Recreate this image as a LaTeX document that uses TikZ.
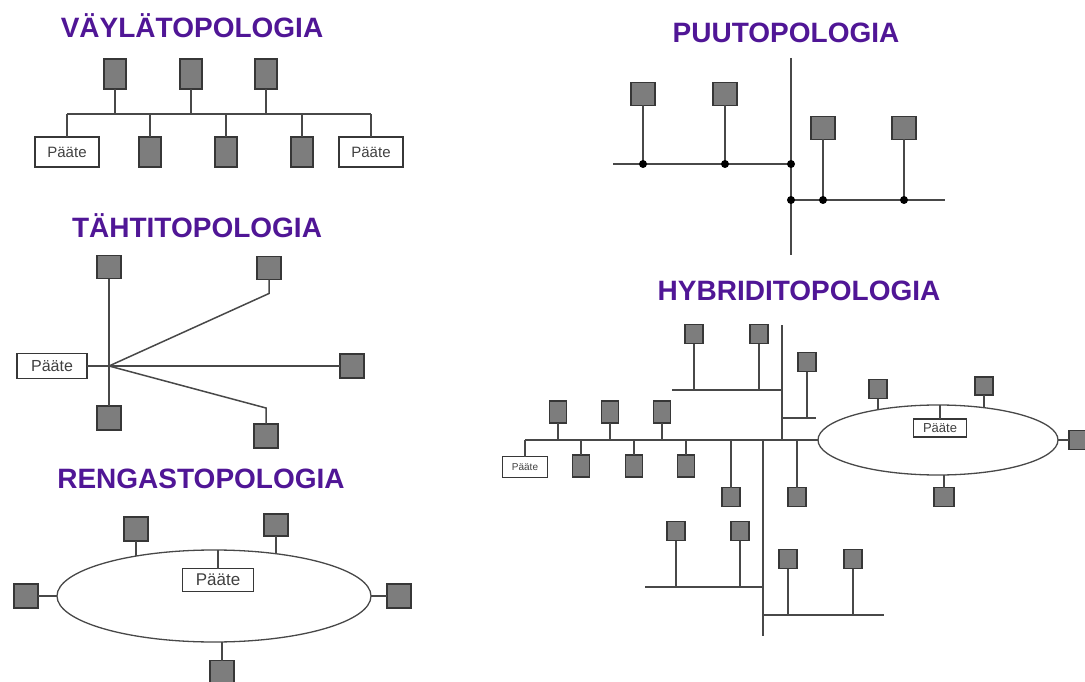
\documentclass[tikz,border=0pt]{standalone}
\usepackage{fontspec}
\setmainfont{Liberation Sans}
\usepackage{xcolor}
\usepackage{tikz}
\usetikzlibrary{shapes.geometric}
\usetikzlibrary{positioning}
\definecolor{titlepurple}{RGB}{80,22,150}
\definecolor{wiregray}{RGB}{72,72,72}
\definecolor{boxfill}{RGB}{125,125,125}
\definecolor{boxline}{RGB}{55,55,55}
\tikzset{title/.style={anchor=base, text=titlepurple, font=\bfseries\fontsize{28}{30}\selectfont}}
\tikzset{wire/.style={draw=wiregray, line width=1.5pt}}
\tikzset{pc/.style={draw=boxline, fill=boxfill, line width=1.2pt, inner sep=0pt, outer sep=0pt, minimum width=24pt, minimum height=24pt}}
\tikzset{tall/.style={pc, minimum width=22pt, minimum height=30pt}}
\tikzset{slim/.style={pc, minimum width=17pt, minimum height=22pt}}
\tikzset{small/.style={pc, minimum width=18pt, minimum height=19pt}}
\tikzset{term/.style={draw=boxline, fill=white, line width=1.1pt, inner sep=0pt, outer sep=0pt, text=black!75, font=\fontsize{#1}{#1}\selectfont}}
\tikzset{term/.default=15}
\tikzset{dot/.style={circle, fill=black, inner sep=0pt, minimum size=8pt}}
\tikzset{ring/.style={ellipse, draw=wiregray, line width=1.3pt, inner sep=0pt, outer sep=0pt}}

\begin{document}
\begin{tikzpicture}[x=1pt, y=-1pt]
\useasboundingbox (0,0) rectangle (1085,682);
{
% bus
\node[title] (tbus) at (192,38) {VÄYLÄTOPOLOGIA};
\coordinate (bus) at (0,114);
\node[tall] (b1) at (115,74) {};
\node[tall] (b2) at (191,74) {};
\node[tall] (b3) at (266,74) {};
\node[term, minimum width=64pt, minimum height=30pt] (bp1) at (67,152) {Pääte};
\node[tall] (b4) at (150,152) {};
\node[tall] (b5) at (226,152) {};
\node[tall] (b6) at (302,152) {};
\node[term, minimum width=64pt, minimum height=30pt] (bp2) at (371,152) {Pääte};
\draw[wire] (bp1.north |- bus) -- (bp2.north |- bus);
\foreach \n in {b1,b2,b3} \draw[wire] (\n.south) -- (\n.south |- bus);
\foreach \n in {bp1,b4,b5,b6,bp2} \draw[wire] (\n.north) -- (\n.north |- bus);
}
{
% tree
\node[title] (ttree) at (786,43) {PUUTOPOLOGIA};
\coordinate (tt) at (791,58);
\coordinate (tb) at (791,255);
\coordinate (ua) at (613,164);
\coordinate (lb) at (945,200);
\node[pc, minimum height=23pt] (t1) at (643,94) {};
\node[pc, minimum height=23pt] (t2) at (725,94) {};
\node[pc, minimum height=23pt] (t3) at (823,128) {};
\node[pc, minimum height=23pt] (t4) at (904,128) {};
\draw[wire] (tt) -- (tb);
\draw[wire] (ua) -- (ua -| tt) node[dot] {};
\draw[wire] (lb -| tt) node[dot] {} -- (lb);
\foreach \n in {t1,t2} \draw[wire] (\n.south) -- (\n.south |- ua) node[dot] {};
\foreach \n in {t3,t4} \draw[wire] (\n.south) -- (\n.south |- lb) node[dot] {};
}
{
% star
\node[title] (tstar) at (197,237) {TÄHTITOPOLOGIA};
\coordinate (hub) at (109,366);
\node[term=16, minimum width=70pt, minimum height=25pt] (sp) at (52,366) {Pääte};
\node[pc, minimum height=23pt] (s1) at (109,267) {};
\node[pc] (s2) at (109,418) {};
\node[pc, minimum height=23pt] (s3) at (269,268) {};
\node[pc] (s4) at (352,366) {};
\node[pc] (s5) at (266,436) {};
\draw[wire] (s1.south) -- (s2.north);
\draw[wire] (sp.east) -- (s4.west);
\draw[wire] (s3.south) -- ++(0,14) -- (hub);
\draw[wire] (s5.north) -- ++(0,-16) -- (hub);
}
{
% ring
\node[title] (tring) at (201,488) {RENGASTOPOLOGIA};
\node[ring, minimum width=314pt, minimum height=92pt] (rg) at (214,596) {};
\node[term=17, minimum width=71pt, minimum height=23pt] (rp) at (218,580) {Pääte};
\node[pc] (r1) at (136,529) {};
\node[pc, minimum height=22pt] (r2) at (276,525) {};
\node[pc] (r3) at (26,596) {};
\node[pc] (r4) at (399,596) {};
\node[pc, minimum height=27pt] (r5) at (222,674) {};
\coordinate (rj1) at (136,556);
\coordinate (rj2) at (276,554);
\draw[wire] (rp.north) -- (rp.north |- rg.north);
\draw[wire] (r1.south) -- (rj1);
\draw[wire] (r2.south) -- (rj2);
\draw[wire] (r3.east) -- (rg.west);
\draw[wire] (rg.east) -- (r4.west);
\draw[wire] (r5.north) -- (r5.north |- rg.south);
}
{
% hybrid
\node[title] (thyb) at (799,300) {HYBRIDITOPOLOGIA};
\node[ring, minimum width=240pt, minimum height=70pt] (hr) at (938,440) {};
\coordinate (hl) at (525,440);
\coordinate (hv) at (763,636);
\coordinate (uv) at (782,325);
\coordinate (ub) at (672,390);
\coordinate (sb) at (816,418);
\coordinate (llb) at (645,587);
\coordinate (lrb) at (884,615);
\node[term=10, minimum width=45pt, minimum height=21pt] (hp) at (525,467) {Pääte};
\foreach \n/\x in {h1/558,h2/610,h3/662} \node[slim] (\n) at (\x,412) {};
\foreach \n/\x in {h4/581,h5/634,h6/686} \node[slim] (\n) at (\x,466) {};
\node[small] (h7) at (731,497) {};
\node[small] (h8) at (797,497) {};
\node[small] (h9) at (676,531) {};
\node[small] (h10) at (740,531) {};
\node[small] (h11) at (788,559) {};
\node[small] (h12) at (853,559) {};
\node[small] (h13) at (694,334) {};
\node[small] (h14) at (759,334) {};
\node[small] (h15) at (807,362) {};
\draw[wire] (hl) -- (hr.west);
\foreach \n in {h1,h2,h3} \draw[wire] (\n.south) -- (\n.south |- hl);
\foreach \n in {hp,h4,h5,h6,h7,h8} \draw[wire] (\n.north) -- (\n.north |- hl);
\draw[wire] (hv |- hl) -- (hv);
\draw[wire] (llb) -- (llb -| hv);
\draw[wire] (lrb -| hv) -- (lrb);
\foreach \n in {h9,h10} \draw[wire] (\n.south) -- (\n.south |- llb);
\foreach \n in {h11,h12} \draw[wire] (\n.south) -- (\n.south |- lrb);
\draw[wire] (uv) -- (uv |- hl);
\draw[wire] (ub) -- (ub -| uv);
\draw[wire] (sb -| uv) -- (sb);
\foreach \n in {h13,h14} \draw[wire] (\n.south) -- (\n.south |- ub);
\draw[wire] (h15.south) -- (h15.south |- sb);
% ring part
\node[term=13, minimum width=53pt, minimum height=18pt] (hq) at (940,428) {Pääte};
\node[small] (q1) at (878,389) {};
\node[small, minimum height=18pt] (q2) at (984,386) {};
\node[small, minimum height=19pt] (q3) at (1078,440) {};
\node[small, minimum width=20pt] (q4) at (944,497) {};
\coordinate (qj1) at (878,410);
\coordinate (qj2) at (984,408);
\draw[wire] (hq.north) -- (hq.north |- hr.north);
\draw[wire] (q1.south) -- (qj1);
\draw[wire] (q2.south) -- (qj2);
\draw[wire] (hr.east) -- (q3.west);
\draw[wire] (q4.north) -- (q4.north |- hr.south);
}
\end{tikzpicture}
\end{document}
